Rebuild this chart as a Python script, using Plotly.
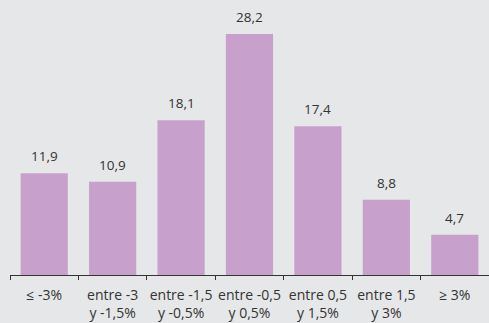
import plotly.graph_objects as go

# Distribution by range of variation (%)
categories = [
    "≤ -3%",
    "entre -3<br>y -1,5%",
    "entre -1,5<br>y -0,5%",
    "entre -0,5<br>y 0,5%",
    "entre 0,5<br>y 1,5%",
    "entre 1,5<br>y 3%",
    "≥ 3%",
]
values = [11.9, 10.9, 18.1, 28.2, 17.4, 8.8, 4.7]

bg = "#E6E7E9"
bar_color = "#C8A0CC"
text_color = "#333333"
font_family = "Open Sans, Noto Sans, sans-serif"

fig = go.Figure(
    go.Bar(
        x=categories,
        y=values,
        marker=dict(color=bar_color, line=dict(width=0)),
        hoverinfo="skip",
    )
)

for c, v in zip(categories, values):
    fig.add_annotation(
        x=c, y=v, text=f"{v:.1f}".replace(".", ","),
        showarrow=False, yanchor="bottom", yshift=6,
        font=dict(size=13.5, color=text_color, family=font_family),
    )

fig.update_layout(
    width=489, height=323,
    margin=dict(l=10, r=0, t=0, b=48, autoexpand=False),
    paper_bgcolor=bg, plot_bgcolor=bg,
    bargap=0.31,
    showlegend=False,
    font=dict(family=font_family, size=14, color=text_color),
)
fig.update_xaxes(
    type="category",
    showline=True, linecolor="#333333", linewidth=1,
    ticks="outside", tickson="boundaries", ticklen=4, tickcolor="#333333",
    ticklabelstandoff=7, tickangle=0, automargin=False,
    showgrid=False,
    tickfont=dict(size=14, color=text_color, family=font_family),
)
fig.update_yaxes(
    range=[0, 32.18], visible=False, showgrid=False, zeroline=False,
)

fig.write_html("out.html")
